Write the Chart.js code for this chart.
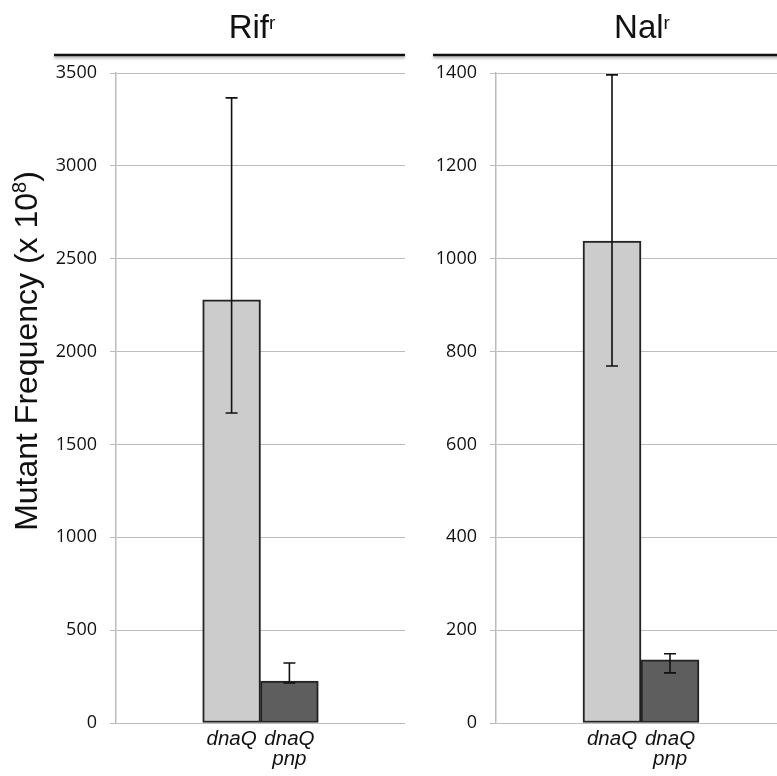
<!DOCTYPE html>
<html lang="en">
<head>
  <meta charset="UTF-8" />
  <title>Mutant Frequency</title>
  <style>
    html, body { margin: 0; padding: 0; background: #fff; overflow: hidden; }
    .panel { position: absolute; top: 0; height: 776px; }
    #rif { left: 0; width: 420px; }
    #nal { left: 420px; width: 380px; }
  </style>
</head>
<body>
  <div class="panel" id="rif"><canvas id="rif-chart"></canvas></div>
  <div class="panel" id="nal"><canvas id="nal-chart"></canvas></div>

  <script src="https://cdn.jsdelivr.net/npm/chart.js"></script>
  <script>
    // strains, placed at x = 2 and 3 on a 0..5 axis so the two bars touch
    const strains = ['dnaQ', ['dnaQ', 'pnp']];
    const strainPos = [2, 3];

    const rifValues = [2278, 226];
    const rifErrHigh = [3366, 323];
    const rifErrLow = [1669, 215];

    const nalValues = [1038, 136];
    const nalErrHigh = [1396, 149];
    const nalErrLow = [769, 108];

    const barColors = ['#cccccc', '#5e5e5e'];
    const gridColor = '#bcbcbc';

    // error bars with caps
    const errorBars = {
      id: 'errorBars',
      afterDatasetsDraw(chart, args, opts) {
        const ctx = chart.ctx;
        const y = chart.scales.y;
        const bars = chart.getDatasetMeta(0).data;
        ctx.save();
        ctx.strokeStyle = '#111';
        ctx.lineWidth = 1.6;
        bars.forEach((bar, i) => {
          const top = y.getPixelForValue(opts.high[i]);
          const bot = y.getPixelForValue(opts.low[i]);
          ctx.beginPath();
          ctx.moveTo(bar.x, top); ctx.lineTo(bar.x, bot);
          ctx.moveTo(bar.x - 6, top); ctx.lineTo(bar.x + 6, top);
          ctx.moveTo(bar.x - 6, bot); ctx.lineTo(bar.x + 6, bot);
          ctx.stroke();
        });
        ctx.restore();
      }
    };

    // panel heading with superscript and the rule underneath
    const panelTitle = {
      id: 'panelTitle',
      afterDraw(chart, args, opts) {
        const ctx = chart.ctx;
        const big = '33px "Liberation Sans", Arial, sans-serif';
        const small = '19px "Liberation Sans", Arial, sans-serif';
        ctx.save();
        ctx.fillStyle = '#111';
        ctx.textBaseline = 'alphabetic';
        ctx.font = big;
        const w1 = ctx.measureText(opts.text).width;
        ctx.font = small;
        const w2 = ctx.measureText(opts.sup).width;
        const x0 = opts.cx - (w1 + w2) / 2;
        ctx.font = big;
        ctx.fillText(opts.text, x0, 38);
        ctx.font = small;
        ctx.fillText(opts.sup, x0 + w1, 29);

        ctx.shadowColor = 'rgba(0,0,0,0.35)';
        ctx.shadowBlur = 3;
        ctx.shadowOffsetY = 2;
        ctx.strokeStyle = '#111';
        ctx.lineWidth = 2.5;
        ctx.beginPath();
        ctx.moveTo(opts.x1, 55);
        ctx.lineTo(opts.x2, 55);
        ctx.stroke();
        ctx.restore();
      }
    };

    // rotated y axis title on the left panel
    const yTitle = {
      id: 'yTitle',
      afterDraw(chart, args, opts) {
        if (!opts.show) return;
        const ctx = chart.ctx;
        const main = 'Mutant Frequency (x 10';
        const big = '32px "Liberation Sans", Arial, sans-serif';
        const small = '20px "Liberation Sans", Arial, sans-serif';
        ctx.save();
        ctx.translate(37, 351);
        ctx.rotate(-Math.PI / 2);
        ctx.fillStyle = '#111';
        ctx.font = big;
        const w1 = ctx.measureText(main).width;
        const wClose = ctx.measureText(')').width;
        ctx.font = small;
        const w2 = ctx.measureText('8').width;
        let x = -(w1 + w2 + wClose) / 2;
        ctx.font = big;
        ctx.fillText(main, x, 0);
        x += w1;
        ctx.font = small;
        ctx.fillText('8', x, -11);
        x += w2;
        ctx.font = big;
        ctx.fillText(')', x, 0);
        ctx.restore();
      }
    };

    function makePanel(id, values, high, low, yMax, yStep, axisWidth, rightPad, title, showYTitle) {
      const ctx = document.getElementById(id).getContext('2d');
      return new Chart(ctx, {
        type: 'bar',
        data: {
          datasets: [{
            data: strainPos.map((x, i) => ({ x: x, y: values[i] })),
            backgroundColor: barColors,
            borderColor: '#222',
            borderWidth: 2,
            borderSkipped: false,
            categoryPercentage: 1,
            barPercentage: 1
          }]
        },
        options: {
          responsive: true,
          maintainAspectRatio: false,
          animation: false,
          layout: { padding: { top: 73, right: rightPad, bottom: 0, left: 0 } },
          plugins: {
            legend: { display: false },
            tooltip: { enabled: false },
            errorBars: { high: high, low: low },
            panelTitle: title,
            yTitle: { show: showYTitle }
          },
          scales: {
            x: {
              type: 'linear',
              min: 0,
              max: 5,
              offset: false,
              grid: { display: false, drawTicks: false },
              border: { display: false },
              afterFit: s => { s.height = 53; },
              ticks: {
                stepSize: 1,
                autoSkip: false,
                maxRotation: 0,
                padding: 6,
                color: '#111',
                font: { family: '"Liberation Sans", Arial, sans-serif', size: 20.5, style: 'italic', lineHeight: 0.98 },
                callback: v => {
                  const i = strainPos.indexOf(v);
                  return i >= 0 ? strains[i] : '';
                }
              }
            },
            y: {
              min: 0,
              max: yMax,
              grid: { color: gridColor, lineWidth: 1, tickLength: 6 },
              border: { display: true, color: gridColor, width: 1.5 },
              afterFit: s => { s.width = axisWidth; },
              ticks: {
                stepSize: yStep,
                padding: 13,
                color: '#111',
                font: { family: '"Open Sans", Lato, sans-serif', size: 18 },
                callback: v => String(v)
              }
            }
          }
        },
        plugins: [errorBars, panelTitle, yTitle]
      });
    }

    makePanel('rif-chart', rifValues, rifErrHigh, rifErrLow, 3500, 500, 116, 15,
      { text: 'Rif', sup: 'r', cx: 252, x1: 54, x2: 405 }, true);
    makePanel('nal-chart', nalValues, nalErrHigh, nalErrLow, 1400, 200, 76, 14,
      { text: 'Nal', sup: 'r', cx: 222, x1: 13, x2: 380 }, false);
  </script>
</body>
</html>
